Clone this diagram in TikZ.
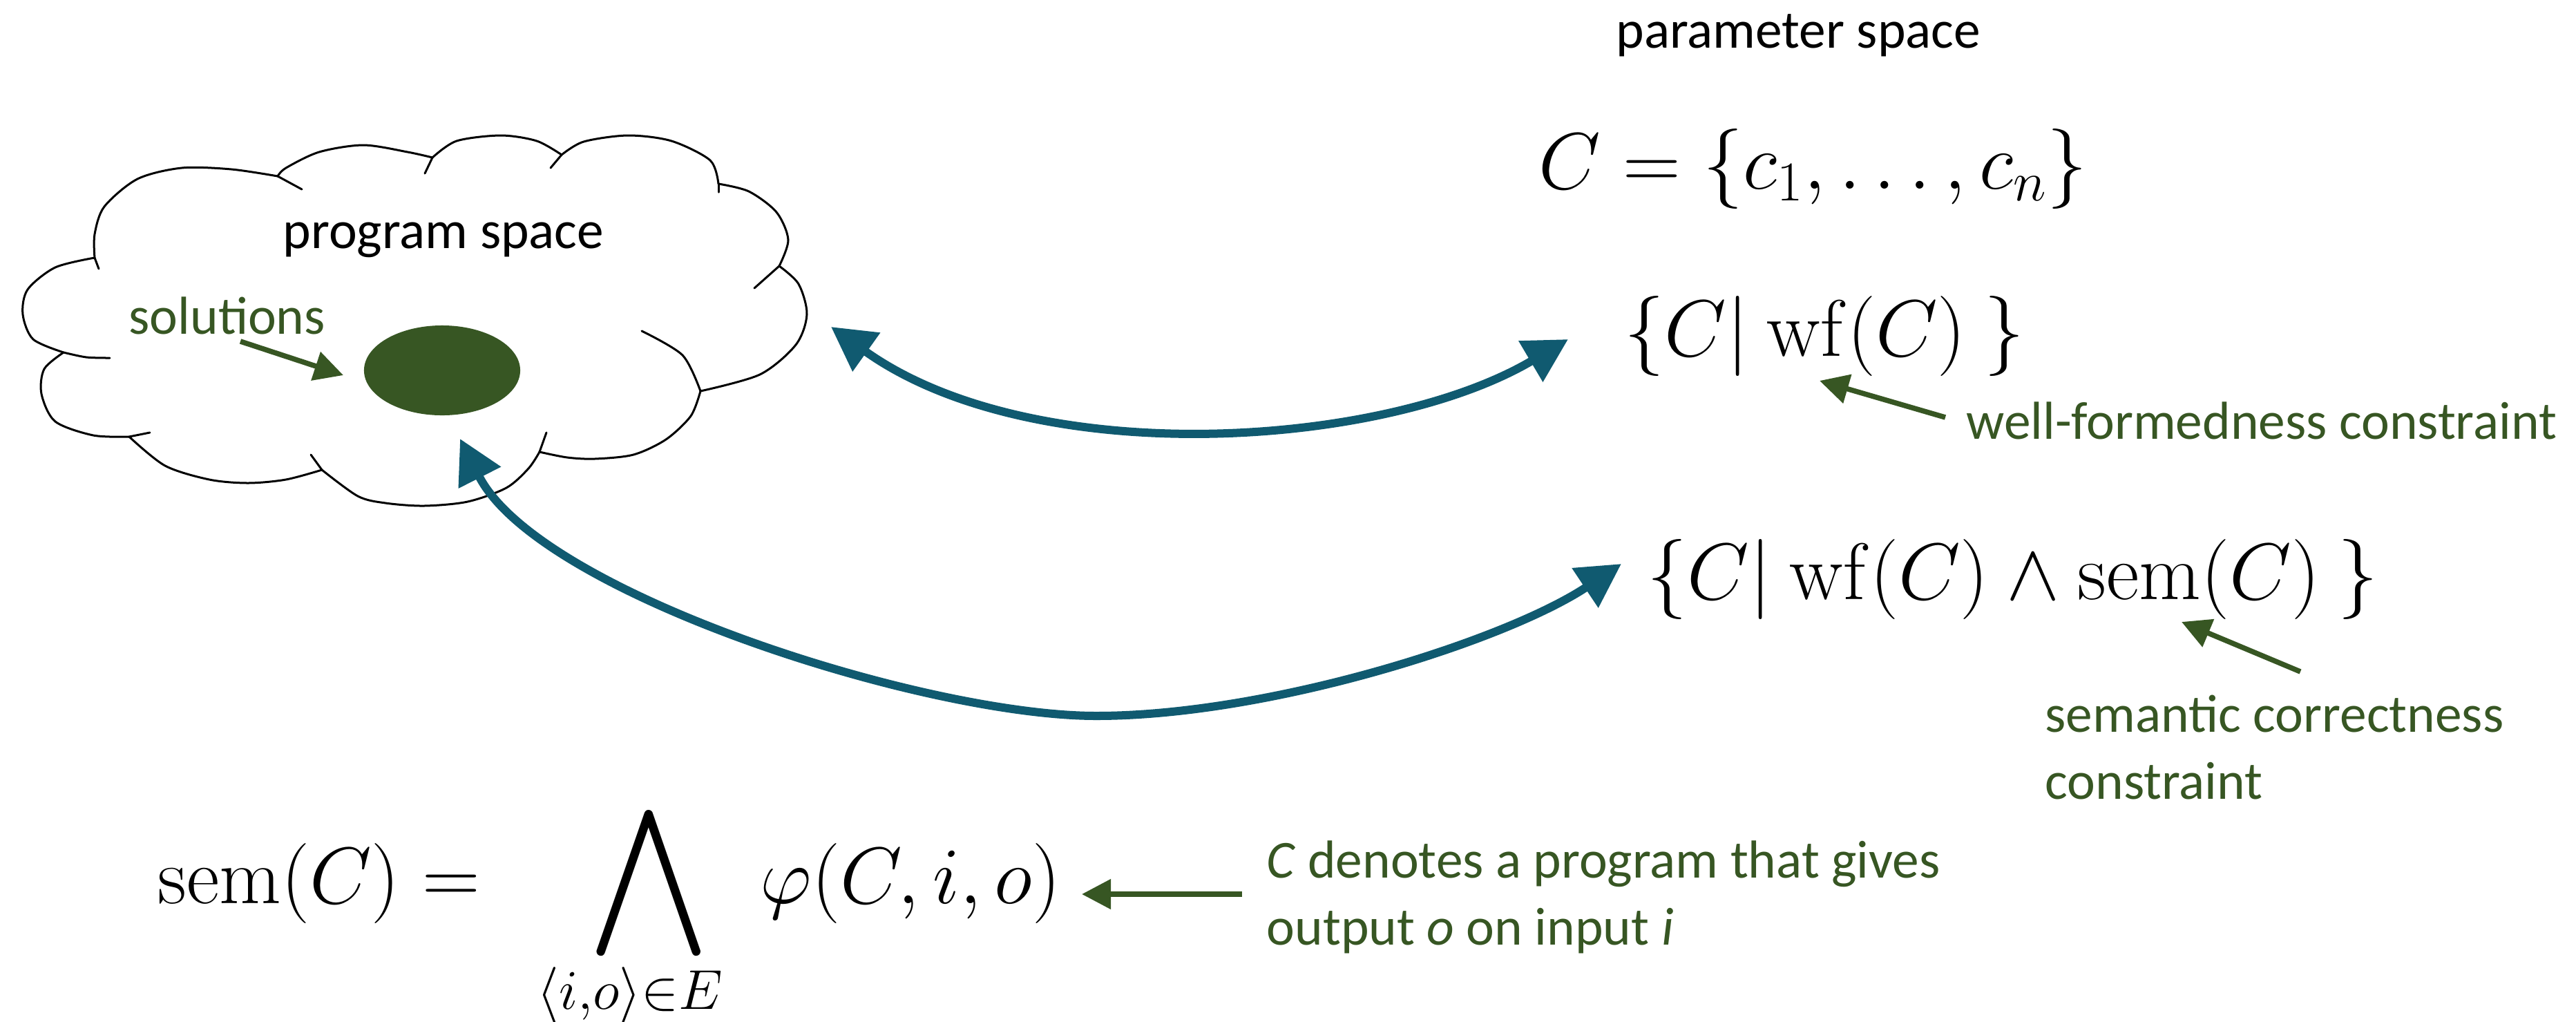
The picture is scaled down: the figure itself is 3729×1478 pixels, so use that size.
\RequirePackage{fix-cm}
\documentclass[tikz,border=0pt]{standalone}
\usepackage[no-math]{fontspec}
\setmainfont{Carlito}
\usepackage{amsmath,amssymb}
\usepackage{graphicx}
\usetikzlibrary{arrows.meta,positioning,shapes.geometric}
\definecolor{linkblue}{RGB}{16,90,112}
\definecolor{notegreen}{RGB}{55,86,35}

\begin{document}
\begin{tikzpicture}[x=0.01cm,y=-0.01cm,
  txt/.style={inner sep=0pt,anchor=base west,font=\fontsize{22}{27.5}\selectfont},
  note/.style={txt,text=notegreen,align=left},
  formula/.style={inner sep=0pt,anchor=base west,font=\fontsize{33}{40}\selectfont},
  puff/.style={line width=0.03cm,line cap=round},
  link/.style={{Triangle[length=0.63cm,width=0.66cm]}-{Triangle[length=0.63cm,width=0.66cm]},line width=0.12cm,draw=linkblue},
  arr/.style={-{Triangle[length=0.42cm,width=0.42cm]},line width=0.075cm,draw=notegreen}
]
\useasboundingbox (0,0) rectangle (3729,1478);

% program space: the cloud, puff by puff
\draw[puff] plot[smooth] coordinates {(137,373) (80,387) (40,419) (33,455) (48,491) (92,510)};
\draw[puff] plot[smooth] coordinates {(92,510) (64,534) (60,570) (80,610) (135,630) (187,632)};
\draw[puff] plot[smooth] coordinates {(187,632) (239,674) (303,694) (359,699) (414,694) (466,680)};
\draw[puff] plot[smooth] coordinates {(466,680) (518,718) (558,728) (614,732) (677,726) (733,706) (765,678) (781,654)};
\draw[puff] plot[smooth] coordinates {(781,654) (821,662) (861,664) (917,658) (964,636) (1000,602) (1014,566)};
\draw[puff] plot[smooth] coordinates {(1014,566) (1100,542) (1152,499) (1168,455) (1156,411) (1128,385)};
\draw[puff] plot[smooth] coordinates {(1128,385) (1141,347) (1124,307) (1084,277) (1040,266)};
\draw[puff] plot[smooth] coordinates {(1040,266) (1028,232) (972,204) (909,196) (845,205) (813,224)};
\draw[puff] plot[smooth] coordinates {(813,224) (777,204) (725,196) (661,204) (626,228)};
\draw[puff] plot[smooth] coordinates {(626,228) (590,220) (526,210) (462,220) (414,243) (402,255)};
\draw[puff] plot[smooth] coordinates {(402,255) (335,245) (263,243) (199,259) (151,299) (137,339) (137,373)};
% inner ends of the puffs
\draw[puff] (137,373) -- (143,389);
\draw[puff] plot[smooth] coordinates {(92,510) (125,517) (159,518)};
\draw[puff] (187,632) -- (217,626);
\draw[puff] (466,680) -- (450,658);
\draw[puff] (781,654) -- (791,626);
\draw[puff] plot[smooth] coordinates {(929,479) (988,514) (1014,566)};
\draw[puff] (1128,385) -- (1092,417);
\draw[puff] (1040,266) -- (1040,278);
\draw[puff] (813,224) -- (797,243);
\draw[puff] (626,228) -- (615,251);
\draw[puff] (402,255) -- (437,274);

\node[txt] (prog) at (409,359) {program space};
\node[note] (sol) at (186,483) {solutions};
\node[ellipse,fill=notegreen,minimum width=2.26cm,minimum height=1.3cm,inner sep=0pt] (blob) at (640,536) {};

% parameter space side
\node[txt] (param) at (2339,69) {parameter space};
\node[formula] (cset) at (2227,273) {$C=\{c_1,\ldots,c_n\}$};
\node[formula] (wf) at (2351,515) {$\{C|\ \mathrm{wf}(C)\ \}$};
\node[formula] (wfsem) at (2384,867) {$\{C|\ \mathrm{wf}(C)\wedge\mathrm{sem}(C)\ \}$};
\node[note] (wfnote) at (2846,635) {well-formedness constraint};
\node[note] (semnote) at (2960,1156) {semantic correctness\\constraint};

% definition of sem
\node[formula] (semdef) at (228,1307)
  {$\mathrm{sem}(C) = \mkern20mu\mathop{\vcenter{\hbox{\scalebox{1.3}{$\displaystyle\bigwedge$}}}}\mkern9mu\varphi(C,i,o)$};
\node[formula,anchor=base] (semidx) at (912,1460) {$\scriptstyle\langle i,o\rangle\in E$};
\node[note] (denote) at (1833,1367) {\textit{C} denotes a program that gives\\output \textit{o} on input \textit{i}};

% connector ends
\coordinate (solA) at (348,494);  \coordinate (solB) at (497,543);
\coordinate (wfA) at (2816,604);  \coordinate (wfB) at (2634,551);
\coordinate (semA) at (3330,972); \coordinate (semB) at (3158,900);
\coordinate (defA) at (1798,1294); \coordinate (defB) at (1566,1294);
\coordinate (up1) at (1203,473);  \coordinate (up2) at (2270,491);
\coordinate (lo1) at (666,635);   \coordinate (lo2) at (2347,816);
\coordinate (lomid) at (1587,1036);

\draw[link] (up1) .. controls (1496,682) and (2003,649) .. (up2);
\draw[link] (lo1) .. controls (779,858) and (1337,1036) .. (lomid)
                  .. controls (1837,1036) and (2180,927) .. (lo2);

\draw[arr] (solA) -- (solB);
\draw[arr] (wfA) -- (wfB);
\draw[arr] (semA) -- (semB);
\draw[arr] (defA) -- (defB);
\end{tikzpicture}
\end{document}
